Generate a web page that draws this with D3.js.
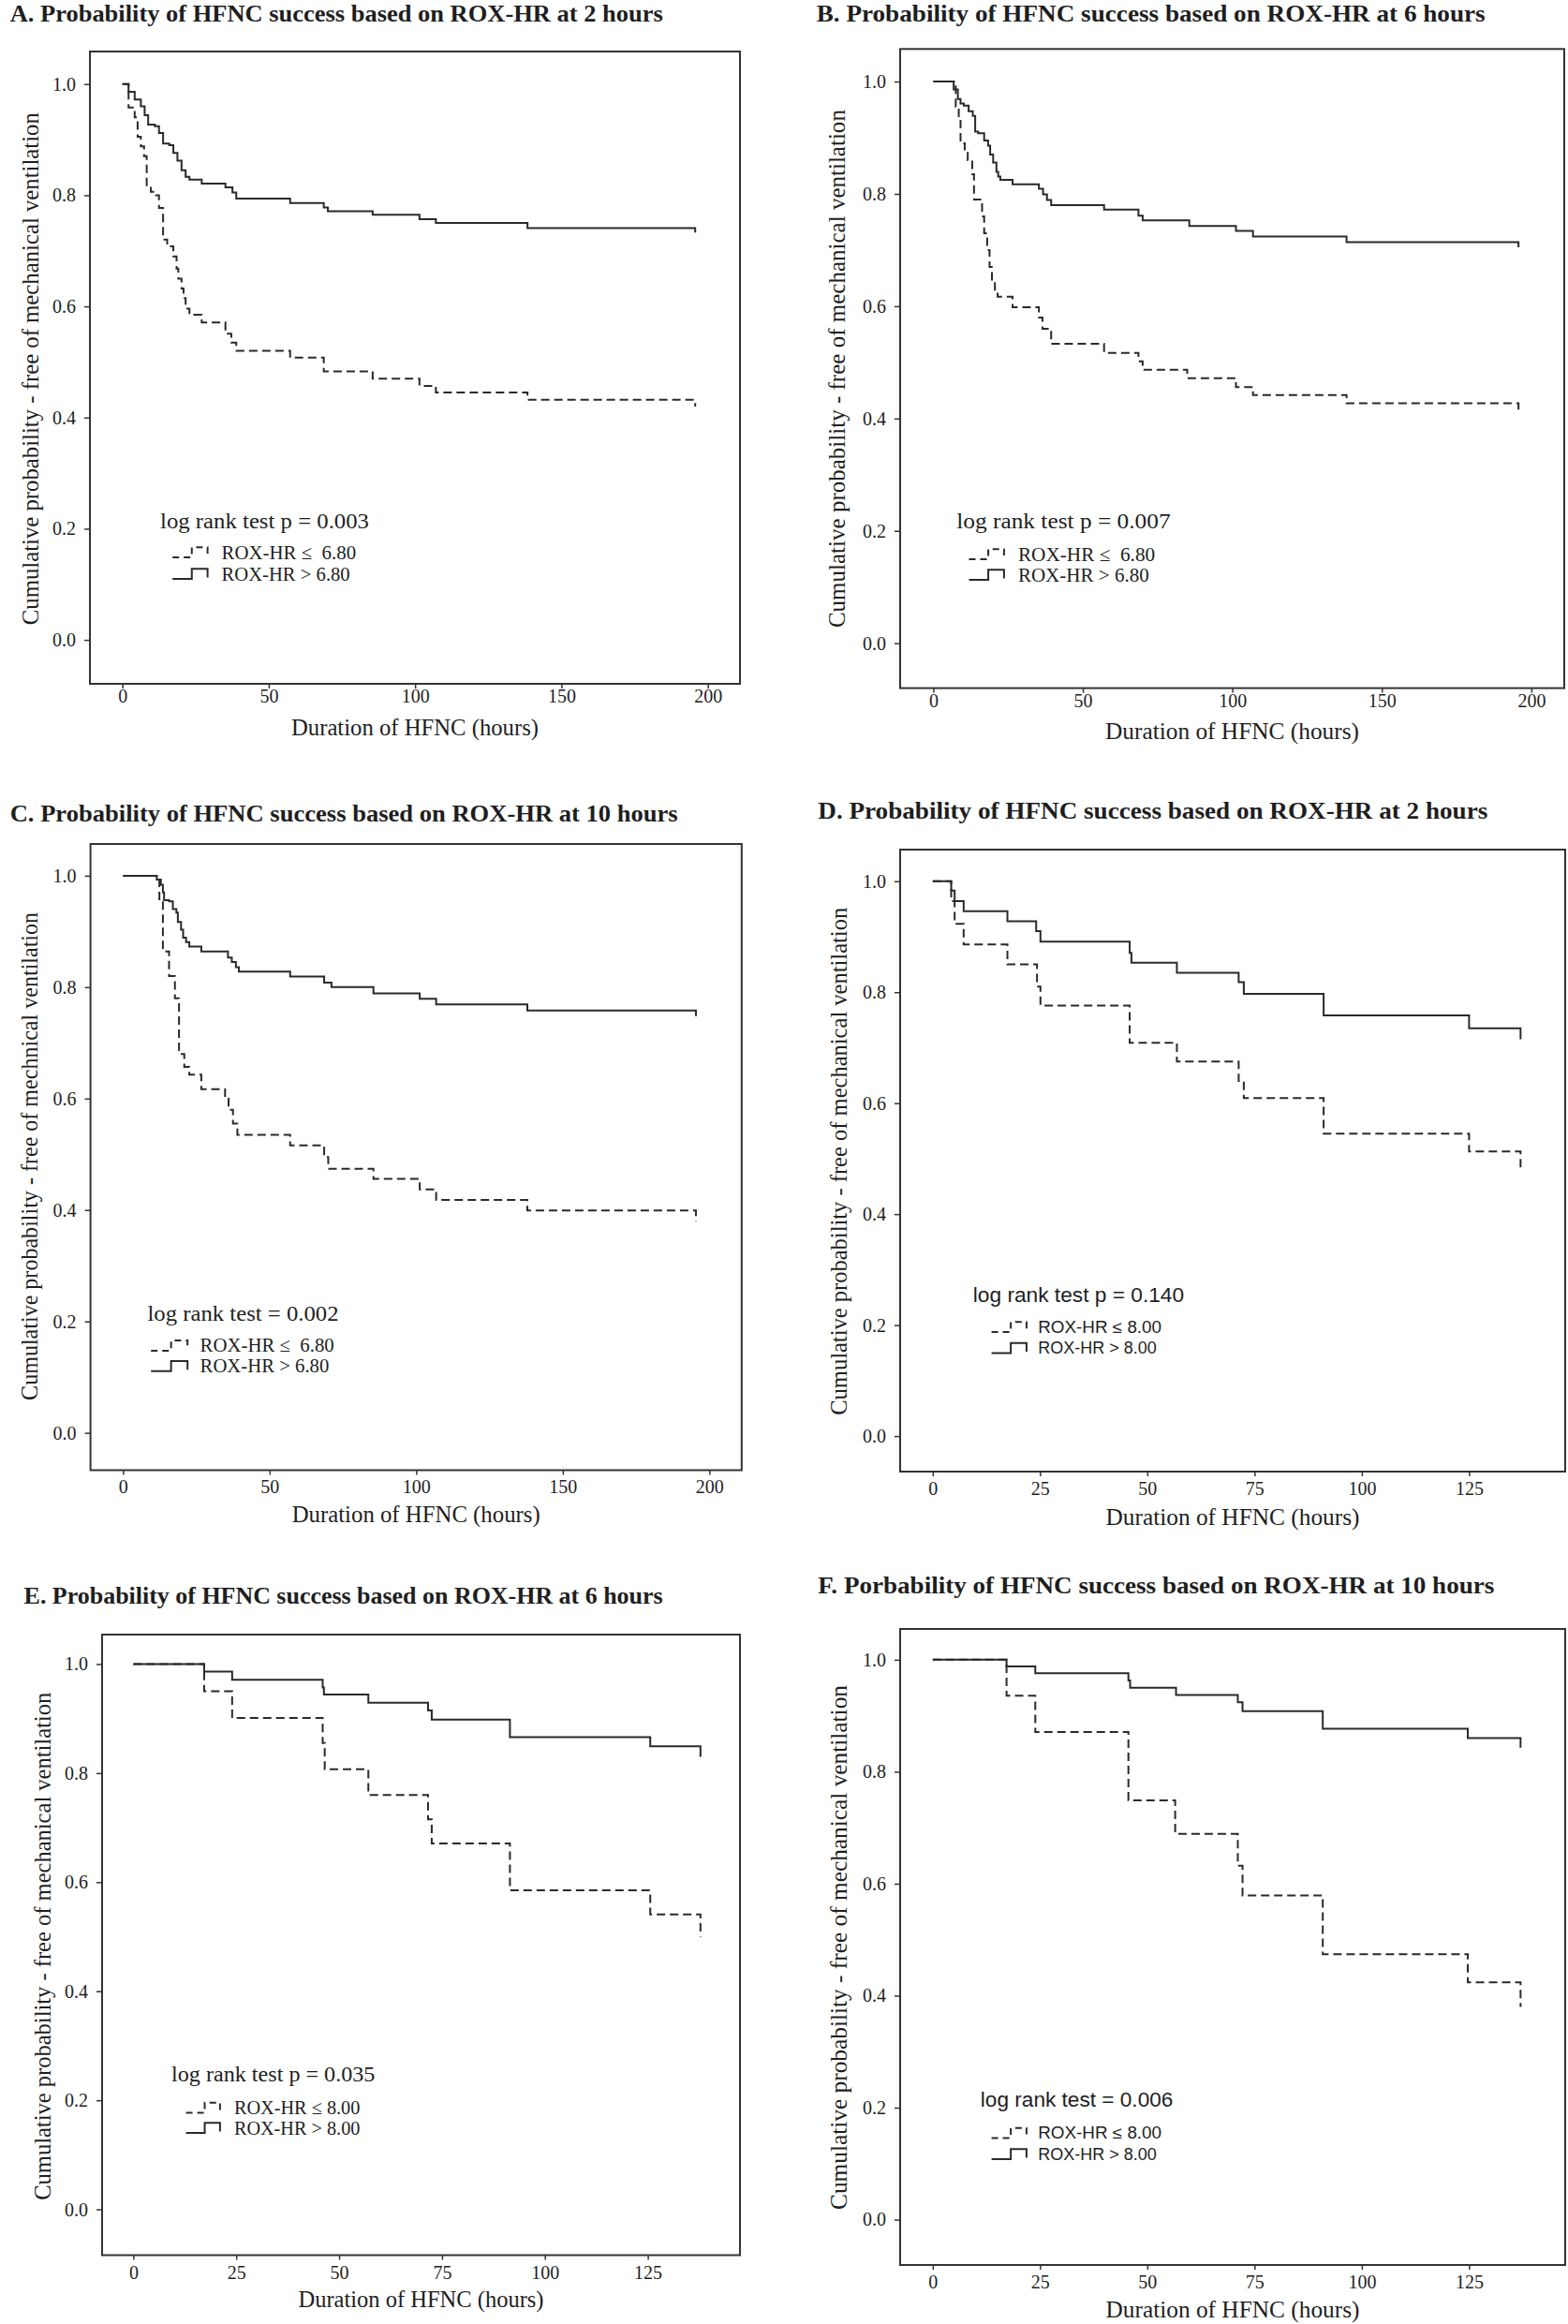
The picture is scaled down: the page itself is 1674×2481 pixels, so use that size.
<!DOCTYPE html>
<html><head><meta charset="utf-8">
<script src="https://cdn.jsdelivr.net/npm/d3@7"></script>
<style>body{margin:0;background:#fff}svg{display:block}text{white-space:pre}</style>
</head><body>
<svg id="chart" width="1674" height="2481"></svg>
<script>
// ---------------- DATA ----------------
const panelTitles = [
  "A. Probability of HFNC success based on ROX-HR at 2 hours",
  "B. Probability of HFNC success based on ROX-HR at 6 hours",
  "C. Probability of HFNC success based on ROX-HR at 10 hours",
  "D. Probability of HFNC success based on ROX-HR at 2 hours",
  "E. Probability of HFNC success based on ROX-HR at 6 hours",
  "F. Porbability of HFNC success based on ROX-HR at 10 hours"
];
const xAxisTitle = "Duration of HFNC (hours)";
const yAxisTitles = [
  "Cumulative probability - free of mechanical ventilation",
  "Cumulative probability - free of mechanical ventilation",
  "Cumulative probability - free of mechnical ventilation",
  "Cumulative probability - free of mechanical ventilation",
  "Cumulative probability - free of mechanical ventilation",
  "Cumulative probability - free of mechanical ventilation"
];
const logRankTexts = ["log rank test p = 0.003","log rank test p = 0.007","log rank test = 0.002",
                      "log rank test p = 0.140","log rank test p = 0.035","log rank test = 0.006"];
const lowGroupLabels = ["ROX-HR ≤  6.80","ROX-HR ≤  6.80","ROX-HR ≤  6.80","ROX-HR ≤ 8.00","ROX-HR ≤ 8.00","ROX-HR ≤ 8.00"];
const highGroupLabels = ["ROX-HR > 6.80","ROX-HR > 6.80","ROX-HR > 6.80","ROX-HR > 8.00","ROX-HR > 8.00","ROX-HR > 8.00"];
const yTicks = [0, 0.2, 0.4, 0.6, 0.8, 1.0];
const xTicksLong = [0, 50, 100, 150, 200];
const xTicksShort = [0, 25, 50, 75, 100, 125];

// Panel A
const aHighTimes = [0, 2.1, 4.2, 6.3, 7.6, 8.8, 11.1, 12.5, 13.9, 16.0, 17.4, 18.8, 20.2, 21.6, 22.9, 27.1, 35.2, 37.6, 38.9, 57.3, 68.8, 70.2, 85.5, 101.5, 107.1, 138.4, 195.7];
const aHighSurv  = [1.0, 0.986, 0.972, 0.960, 0.944, 0.927, 0.924, 0.912, 0.893, 0.890, 0.876, 0.862, 0.845, 0.833, 0.828, 0.821, 0.814, 0.805, 0.794, 0.786, 0.778, 0.771, 0.765, 0.757, 0.750, 0.741, 0.733];
const aLowTimes  = [0, 2.1, 4.2, 5.2, 6.3, 7.4, 8.3, 9.7, 11.5, 12.5, 13.9, 15.3, 17.4, 18.5, 19.1, 20.2, 20.9, 21.6, 22.9, 27.1, 35.2, 37.2, 38.9, 57.3, 68.8, 85.5, 101.5, 107.1, 138.4, 195.7];
const aLowSurv   = [1.0, 0.958, 0.94, 0.905, 0.888, 0.87, 0.816, 0.806, 0.80, 0.777, 0.72, 0.708, 0.69, 0.668, 0.65, 0.632, 0.615, 0.596, 0.585, 0.571, 0.551, 0.535, 0.52, 0.508, 0.483, 0.47, 0.457, 0.445, 0.432, 0.42];
// Panel B
const bHighTimes = [0, 6.8, 8.2, 9.1, 10.2, 11.8, 13.2, 14.0, 15.0, 17.0, 18.3, 19.0, 20.0, 21.1, 21.7, 22.4, 26.5, 35.3, 36.7, 38.0, 39.4, 57.1, 68.6, 70.0, 85.6, 101.2, 106.9, 138.2, 195.7];
const bHighSurv  = [1.0, 0.986, 0.969, 0.961, 0.957, 0.947, 0.939, 0.911, 0.908, 0.895, 0.886, 0.870, 0.856, 0.839, 0.831, 0.825, 0.817, 0.809, 0.799, 0.789, 0.780, 0.772, 0.761, 0.753, 0.743, 0.734, 0.724, 0.714, 0.705];
const bLowTimes  = [0, 7.5, 8.5, 9.1, 10.5, 11.5, 13.0, 13.6, 16.3, 17.0, 18.0, 18.8, 19.6, 20.6, 21.5, 26.5, 35.3, 36.5, 39.4, 57.1, 68.6, 70.0, 84.9, 101.2, 106.9, 138.2, 195.7];
const bLowSurv   = [1.0, 0.955, 0.93, 0.89, 0.875, 0.86, 0.835, 0.79, 0.76, 0.73, 0.70, 0.67, 0.645, 0.625, 0.617, 0.598, 0.58, 0.56, 0.533, 0.517, 0.502, 0.487, 0.472, 0.456, 0.442, 0.427, 0.415];
// Panel C
const cHighTimes = [0, 11.5, 12.9, 13.6, 14.0, 15.7, 17.0, 18.2, 18.7, 19.8, 20.5, 21.5, 22.6, 26.7, 35.8, 37.1, 38.5, 39.5, 57.0, 68.6, 71.1, 85.4, 101.2, 106.8, 137.9, 195.4];
const cHighSurv  = [1.0, 0.993, 0.984, 0.970, 0.956, 0.954, 0.940, 0.934, 0.917, 0.903, 0.889, 0.881, 0.873, 0.864, 0.853, 0.845, 0.836, 0.828, 0.819, 0.808, 0.800, 0.789, 0.779, 0.769, 0.758, 0.748];
const cLowTimes  = [0, 12.4, 13.6, 15.7, 17.7, 19.1, 20.9, 22.6, 26.7, 34.8, 36.0, 37.5, 39.0, 57.0, 68.6, 70.0, 85.4, 101.2, 106.8, 137.9, 195.4];
const cLowSurv   = [1.0, 0.955, 0.864, 0.82, 0.78, 0.68, 0.657, 0.643, 0.617, 0.60, 0.58, 0.555, 0.535, 0.516, 0.495, 0.474, 0.456, 0.437, 0.418, 0.399, 0.38];
// Panel D
const dHighTimes = [0, 4.3, 5.1, 7.2, 17.4, 24.1, 25.1, 45.9, 46.3, 56.9, 71.3, 72.5, 91.1, 125.0, 137.0];
const dHighSurv  = [1.0, 0.983, 0.964, 0.946, 0.928, 0.91, 0.891, 0.871, 0.853, 0.835, 0.818, 0.797, 0.758, 0.735, 0.715];
const dLowTimes  = [0, 4.3, 5.1, 7.2, 17.4, 24.3, 25.1, 45.9, 56.9, 71.3, 72.5, 91.1, 125.0, 137.0];
const dLowSurv   = [1.0, 0.964, 0.923, 0.886, 0.85, 0.81, 0.776, 0.709, 0.675, 0.64, 0.609, 0.545, 0.513, 0.48];
// Panel E
const eHighTimes = [0, 17.2, 24.0, 46.0, 46.3, 57.1, 71.6, 72.5, 91.5, 125.6, 137.8];
const eHighSurv  = [1.0, 0.986, 0.971, 0.957, 0.944, 0.929, 0.915, 0.898, 0.866, 0.849, 0.83];
const eLowTimes  = [0, 17.2, 24.0, 46.0, 46.5, 57.1, 71.6, 72.5, 91.5, 125.6, 137.8];
const eLowSurv   = [1.0, 0.95, 0.901, 0.855, 0.807, 0.76, 0.715, 0.671, 0.585, 0.541, 0.50];
// Panel F
const fHighTimes = [0, 17.2, 23.9, 45.6, 46.0, 56.7, 71.1, 72.2, 90.9, 124.7, 137.0];
const fHighSurv  = [1.0, 0.988, 0.976, 0.963, 0.95, 0.937, 0.924, 0.908, 0.877, 0.86, 0.843];
const fLowTimes  = [0, 17.2, 23.9, 45.6, 56.5, 71.1, 72.2, 90.9, 124.7, 137.0];
const fLowSurv   = [1.0, 0.936, 0.871, 0.749, 0.689, 0.632, 0.579, 0.474, 0.424, 0.38];

// ---------------- LAYOUT ----------------
const xDomainLong = [-11.1, 211];
const xDomainShort = [-7.6, 147.4];
const layout = [
  {left:96, right:790, top:55, bottom:730, yd:[-0.079, 1.0585], xl:13, xt:46, tx:10.7, ty:23, tw:697, yx:32, yy:393.7, yw:547, xtw:264,
   lx:171, ly:556, lw:223, r1:589.5, r2:612.5, sx:184.2, sw:37.4, ex:236.5, e1:143.6, e2:137.2, sans:false},
  {left:961, right:1670, top:52.3, bottom:734.6, yd:[-0.080, 1.058], xl:13, xt:46, tx:871.7, ty:23, tw:714, yx:893, yy:393.6, yw:553, xtw:271,
   lx:1021.2, ly:556, lw:228.5, r1:591.5, r2:613.5, sx:1034.5, sw:37.4, ex:1086.9, e1:146.3, e2:139.9, sans:false},
  {left:96.6, right:791.8, top:901, bottom:1569.5, yd:[-0.067, 1.057], xl:17, xt:47, tx:10.7, ty:877, tw:713, yx:31, yy:1234.4, yw:521, xtw:265,
   lx:157.5, ly:1401.7, lw:204, r1:1436.4, r2:1458.3, sx:161.2, sw:39, ex:213.6, e1:143.1, e2:137.7, sans:false},
  {left:961, right:1671, top:907, bottom:1571, yd:[-0.064, 1.057], xl:18, xt:48, tx:873.3, ty:874, tw:715, yx:895.7, yy:1239.8, yw:542, xtw:271,
   lx:1038.8, ly:1382, lw:225.3, r1:1416.6, r2:1439, sx:1058.6, sw:37.3, ex:1108.2, e1:131.9, e2:126.5, sans:true},
  {left:109, right:790, top:1745, bottom:2407.5, yd:[-0.084, 1.054], xl:18, xt:47, tx:25.6, ty:1712, tw:682, yx:45.4, yy:2077.8, yw:542, xtw:262,
   lx:183.1, ly:2214, lw:217.3, r1:2250, r2:2271.5, sx:198.6, sw:36.3, ex:249.9, e1:134.5, e2:134.5, sans:false},
  {left:961, right:1671, top:1739, bottom:2418, yd:[-0.081, 1.055], xl:18, xt:47, tx:873.3, ty:1701, tw:722, yx:895.7, yy:2079, yw:560, xtw:271,
   lx:1046.8, ly:2241, lw:205.6, r1:2277, r2:2299.5, sx:1058.6, sw:37.3, ex:1108.2, e1:131.9, e2:126.5, sans:true}
];

const lowSeries = [[aLowTimes,aLowSurv],[bLowTimes,bLowSurv],[cLowTimes,cLowSurv],[dLowTimes,dLowSurv],[eLowTimes,eLowSurv],[fLowTimes,fLowSurv]];
const highSeries = [[aHighTimes,aHighSurv],[bHighTimes,bHighSurv],[cHighTimes,cHighSurv],[dHighTimes,dHighSurv],[eHighTimes,eHighSurv],[fHighTimes,fHighSurv]];
const tickSets = [xTicksLong, xTicksLong, xTicksLong, xTicksShort, xTicksShort, xTicksShort];
const domains = [xDomainLong, xDomainLong, xDomainLong, xDomainShort, xDomainShort, xDomainShort];

// ---------------- DRAW ----------------
const svg = d3.select("#chart");
const serif = "'Liberation Serif','Times New Roman',Times,serif";
const sansF = "'Liberation Sans',Arial,Helvetica,sans-serif";
const ink = "#1e1e1e";
const lineInk = "#2a2a2a";

layout.forEach((L, i) => {
  const g = svg.append("g");
  const x = d3.scaleLinear().domain(domains[i]).range([L.left, L.right]);
  const y = d3.scaleLinear().domain(L.yd).range([L.bottom, L.top]);

  // title
  g.append("text").attr("x", L.tx).attr("y", L.ty)
    .attr("font-family", serif).attr("font-weight", "bold").attr("font-size", 25)
    .attr("fill", ink).attr("textLength", L.tw).attr("lengthAdjust", "spacingAndGlyphs")
    .text(panelTitles[i]);

  // axes
  const yAxis = d3.axisLeft(y).tickValues(yTicks).tickFormat(d3.format(".1f")).tickSize(6).tickPadding(9);
  const ya = g.append("g").attr("transform", `translate(${L.left},0)`).call(yAxis);
  ya.select(".domain").remove();
  ya.selectAll("line").attr("stroke", "#333").attr("stroke-width", 1.5);
  ya.selectAll("text").attr("font-family", serif).attr("font-size", 20).attr("fill", ink);

  const xAxis = d3.axisBottom(x).tickValues(tickSets[i]).tickFormat(d3.format("d")).tickSize(5);
  const xa = g.append("g").attr("transform", `translate(0,${L.bottom})`).call(xAxis);
  xa.select(".domain").remove();
  xa.selectAll("line").attr("stroke", "#333").attr("stroke-width", 1.5);
  xa.selectAll("text").attr("y", L.xl).attr("dy", "0.35em")
    .attr("font-family", serif).attr("font-size", 20).attr("fill", ink);

  // frame
  g.append("rect").attr("x", L.left).attr("y", L.top)
    .attr("width", L.right - L.left).attr("height", L.bottom - L.top)
    .attr("fill", "none").attr("stroke", "#333").attr("stroke-width", 2);

  // axis titles
  g.append("text").attr("x", (L.left + L.right) / 2).attr("y", L.bottom + L.xt)
    .attr("text-anchor", "middle").attr("dominant-baseline", "central")
    .attr("font-family", serif).attr("font-size", 24.5).attr("fill", ink)
    .attr("textLength", L.xtw).attr("lengthAdjust", "spacingAndGlyphs")
    .text(xAxisTitle);
  g.append("text").attr("transform", `translate(${L.yx},${L.yy}) rotate(-90)`)
    .attr("text-anchor", "middle").attr("dominant-baseline", "central")
    .attr("font-family", serif).attr("font-size", 24.5).attr("fill", ink)
    .attr("textLength", L.yw).attr("lengthAdjust", "spacingAndGlyphs")
    .text(yAxisTitles[i]);

  // curves
  const line = d3.line().x(d => x(d[0])).y(d => y(d[1])).curve(d3.curveStepAfter);
  g.append("path").datum(d3.zip(highSeries[i][0], highSeries[i][1]))
    .attr("d", line).attr("fill", "none").attr("stroke", lineInk).attr("stroke-width", 2);
  g.append("path").datum(d3.zip(lowSeries[i][0], lowSeries[i][1]))
    .attr("d", line).attr("fill", "none").attr("stroke", lineInk).attr("stroke-width", 2)
    .attr("stroke-dasharray", "9,5");

  // legend
  const hf = L.sans ? sansF : serif;
  g.append("text").attr("x", L.lx).attr("y", L.ly).attr("dominant-baseline", "central")
    .attr("font-family", hf).attr("font-size", L.sans ? 22 : 24).attr("fill", ink)
    .attr("textLength", L.lw).attr("lengthAdjust", "spacingAndGlyphs")
    .text(logRankTexts[i]);
  const sym = d3.line().curve(d3.curveStepAfter);
  [[L.r1, true, lowGroupLabels[i], L.e1], [L.r2, false, highGroupLabels[i], L.e2]].forEach(([cy, dashed, lab, w]) => {
    const p = g.append("path")
      .attr("d", sym([[L.sx, cy + 5.5], [L.sx + L.sw * 0.55, cy - 5.3], [L.sx + L.sw, cy + 4]]))
      .attr("fill", "none").attr("stroke", lineInk).attr("stroke-width", 2);
    if (dashed) p.attr("stroke-dasharray", "7,5");
    g.append("text").attr("x", L.ex).attr("y", cy).attr("dominant-baseline", "central")
      .attr("font-family", hf).attr("font-size", L.sans ? 18 : 21).attr("fill", ink)
      .attr("textLength", w).attr("lengthAdjust", "spacingAndGlyphs")
      .text(lab);
  });
});
</script>
</body></html>
